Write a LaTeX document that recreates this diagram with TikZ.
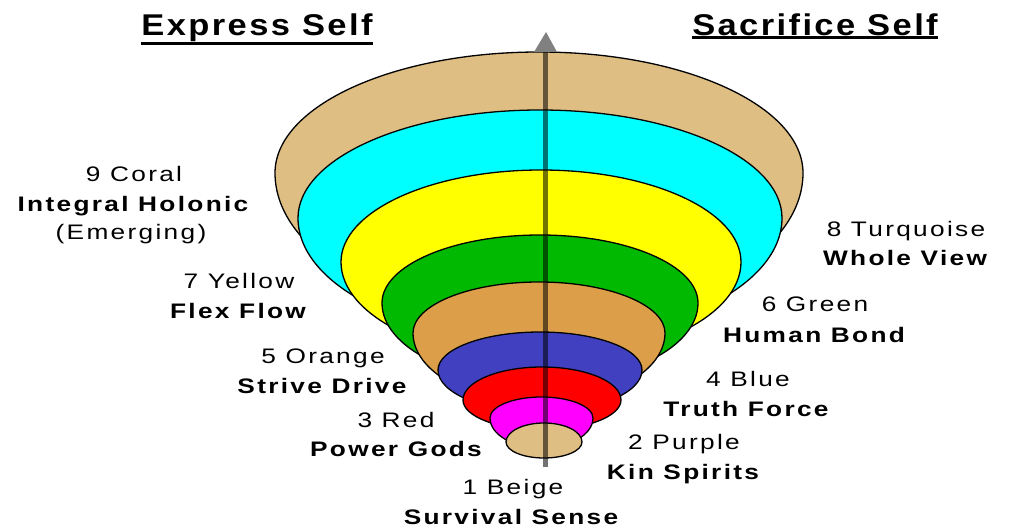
\documentclass[tikz,border=0pt]{standalone}
\usepackage{fontspec}
\setmainfont{Liberation Sans}
\newfontfamily\lblfont{Liberation Sans}[FakeStretch=1.25,LetterSpace=11]
\newfontfamily\hdrfont{Liberation Sans}[FakeStretch=1.15,LetterSpace=8]
\definecolor{tanL}{RGB}{222,190,130}
\definecolor{cyanL}{RGB}{0,255,255}
\definecolor{yellowL}{RGB}{255,255,0}
\definecolor{greenL}{RGB}{0,185,0}
\definecolor{orangeL}{RGB}{220,158,72}
\definecolor{blueL}{RGB}{64,64,192}
\definecolor{redL}{RGB}{255,0,0}
\definecolor{magentaL}{RGB}{255,0,255}
\newcommand\conelayer[6]{% color, left x, a, cy, b top, b bottom
  \filldraw[layer,fill=#1] (#2,#4) arc[start angle=180,end angle=360,x radius=#3,y radius=#5]
    arc[start angle=0,end angle=180,x radius=#3,y radius=#6] -- cycle;}
\begin{document}
\begin{tikzpicture}[x=1pt,y=-1pt,
  layer/.style={draw=black,line width=1.3pt},
  lbl/.style={font=\lblfont\fontsize{21}{21}\selectfont,inner sep=0pt,anchor=base},
  lblb/.style={lbl,font=\lblfont\fontsize{21}{21}\selectfont\bfseries},
  hdr/.style={font=\hdrfont\fontsize{30}{30}\selectfont\bfseries,inner sep=0pt,anchor=base},
  uline/.style={line width=2.5pt},
  axisline/.style={line width=5pt,draw=black,opacity=0.55},
  arrowhead/.style={fill=black!50}]
\useasboundingbox (0,0) rectangle (1009,529);
% layers
\conelayer{tanL}{275}{264}{173}{121}{146}
\conelayer{cyanL}{298}{242}{218}{108}{122}
\conelayer{yellowL}{341}{200}{262}{92}{98}
\conelayer{greenL}{382}{158}{303}{68}{80}
\conelayer{orangeL}{413}{126}{333}{51}{70}
\conelayer{blueL}{438}{102}{370}{38}{42}
\conelayer{redL}{463}{79}{400}{33}{30}
\conelayer{magentaL}{490}{51.5}{418}{21}{30}
\conelayer{tanL}{506}{38}{442}{19}{16}
% axis
\coordinate (axb) at (545,467);
\coordinate (axt) at (545,52);
\draw[axisline] (axb) -- (axt);
\fill[arrowhead] (axt) ++(-11,0) -- ++(12,-20) -- ++(11,20) -- cycle;
% headers
\node[hdr] (exp) at (257,36) {Express Self};
\node[hdr] (sac) at (815,36) {Sacrifice Self};
\draw[uline] ([yshift=-1pt]exp.south west) -- ([yshift=-1pt]exp.south east);
\draw[uline] ([yshift=-1pt]sac.south west) -- ([yshift=-1pt]sac.south east);
% labels left
\node[lbl] (l9a) at (134,182) {9 Coral};
\node[lblb] (l9b) at (133,212) {Integral Holonic};
\node[lbl] (l9c) at (131,240) {(Emerging)};
\node[lbl] (l7a) at (239,288) {7 Yellow};
\node[lblb] (l7b) at (238,318) {Flex Flow};
\node[lbl] (l5a) at (323,363) {5 Orange};
\node[lblb] (l5b) at (322,393) {Strive Drive};
\node[lbl] (l3a) at (396,427) {3 Red};
\node[lblb] (l3b) at (396,456) {Power Gods};
\node[lbl] (l1a) at (513,494) {1 Beige};
\node[lblb] (l1b) at (511,524) {Survival Sense};
% labels right
\node[lbl] (l8a) at (906,237) {8 Turquoise};
\node[lblb] (l8b) at (905,266) {Whole View};
\node[lbl] (l6a) at (815,312) {6 Green};
\node[lblb] (l6b) at (814,342) {Human Bond};
\node[lbl] (l4a) at (748,386) {4 Blue};
\node[lblb] (l4b) at (746,416) {Truth Force};
\node[lbl] (l2a) at (684,449) {2 Purple};
\node[lblb] (l2b) at (683,479) {Kin Spirits};
\end{tikzpicture}
\end{document}
